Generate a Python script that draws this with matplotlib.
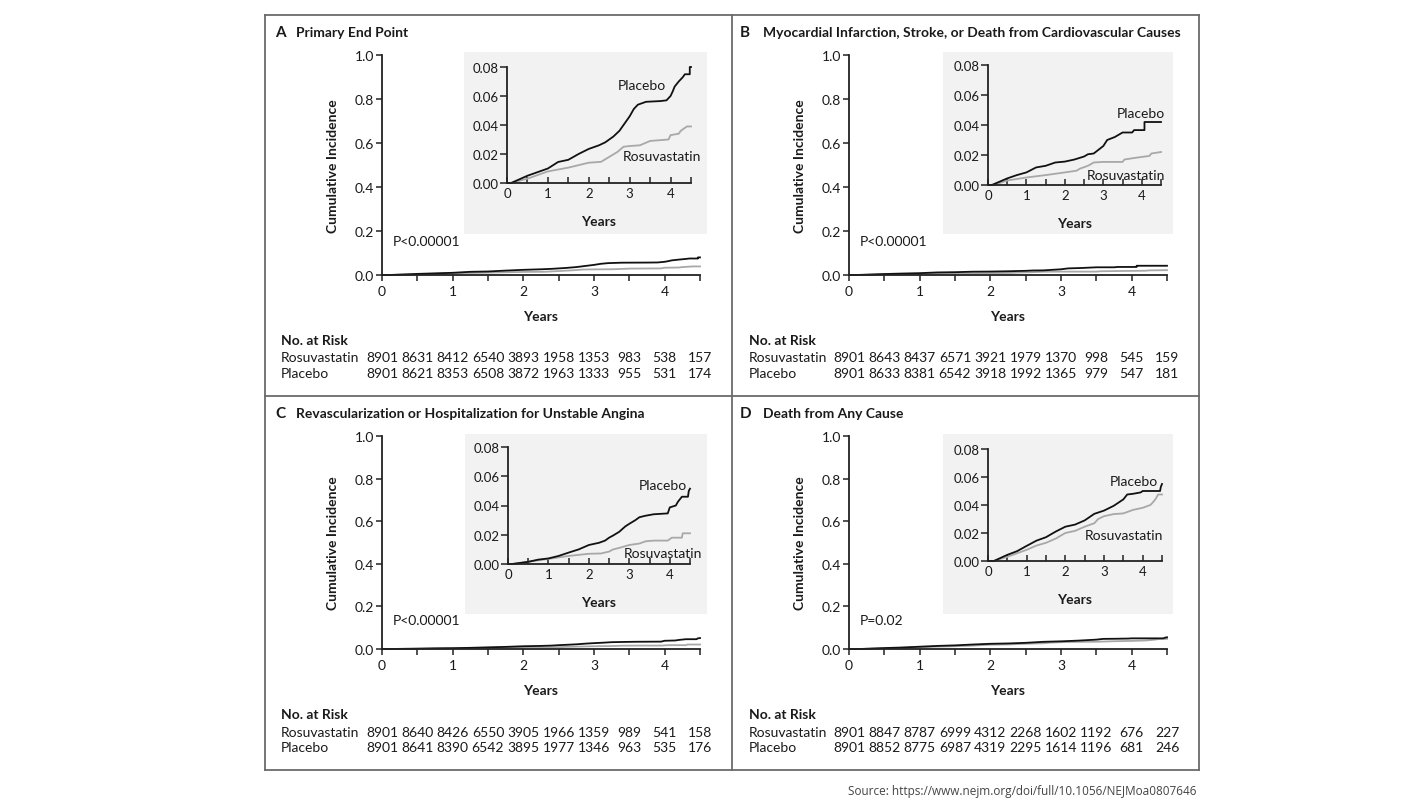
import matplotlib
matplotlib.use('Agg')
import matplotlib.pyplot as plt
from matplotlib.patches import Rectangle
from matplotlib.lines import Line2D
from matplotlib.transforms import blended_transform_factory

W, H, DPI = 1427, 803, 100
plt.rcParams['font.family'] = ['Lato', 'DejaVu Sans']

# ---------------- data ----------------
titles = ["Primary End Point",
          "Myocardial Infarction, Stroke, or Death from Cardiovascular Causes",
          "Revascularization or Hospitalization for Unstable Angina",
          "Death from Any Cause"]
letters = ["A", "B", "C", "D"]
p_values = ["P<0.00001", "P<0.00001", "P<0.00001", "P=0.02"]

# Panel A (years, cumulative incidence)
a_plac_t = [0, 0.1, 0.5, 1.0, 1.25, 1.5, 1.75, 2.0, 2.25, 2.4, 2.6, 2.75, 2.9, 3.0, 3.1, 3.2, 3.4, 3.75, 3.9, 4.0, 4.05, 4.1, 4.2, 4.3, 4.35, 4.47, 4.47, 4.5]
a_plac_y = [0, 0, 0.005, 0.010, 0.0145, 0.016, 0.020, 0.0235, 0.026, 0.028, 0.032, 0.036, 0.042, 0.046, 0.051, 0.054, 0.056, 0.0565, 0.057, 0.060, 0.063, 0.0665, 0.070, 0.073, 0.075, 0.075, 0.080, 0.080]
a_rosu_t = [0, 0.1, 0.5, 1.0, 1.5, 2.0, 2.3, 2.5, 2.7, 2.85, 3.0, 3.25, 3.5, 3.95, 4.0, 4.2, 4.25, 4.4, 4.5]
a_rosu_y = [0, 0, 0.003, 0.008, 0.0106, 0.014, 0.0146, 0.018, 0.0214, 0.025, 0.0255, 0.026, 0.029, 0.030, 0.033, 0.034, 0.036, 0.039, 0.039]

# Panel B
b_plac_t = [0, 0.1, 0.5, 0.75, 1.0, 1.25, 1.5, 1.75, 2.0, 2.25, 2.5, 2.6, 2.75, 2.9, 3.0, 3.1, 3.3, 3.5, 3.75, 3.8, 4.07, 4.07, 4.5]
b_plac_y = [0, 0, 0.0044, 0.0066, 0.0084, 0.0117, 0.0128, 0.015, 0.0156, 0.017, 0.019, 0.0205, 0.021, 0.024, 0.026, 0.030, 0.032, 0.035, 0.035, 0.0366, 0.0366, 0.042, 0.042]
b_rosu_t = [0, 0.15, 0.5, 1.0, 1.5, 2.0, 2.3, 2.4, 2.6, 2.75, 3.0, 3.5, 3.55, 3.8, 4.2, 4.25, 4.4, 4.5]
b_rosu_y = [0, 0, 0.003, 0.005, 0.0066, 0.0084, 0.0095, 0.011, 0.0128, 0.015, 0.0154, 0.0154, 0.017, 0.018, 0.0194, 0.021, 0.0216, 0.022]

# Panel C
c_plac_t = [0, 0.1, 0.5, 0.75, 1.0, 1.25, 1.5, 1.75, 2.0, 2.25, 2.4, 2.5, 2.6, 2.75, 2.9, 3.0, 3.15, 3.25, 3.4, 3.6, 3.95, 4.0, 4.15, 4.2, 4.3, 4.45, 4.47, 4.5]
c_plac_y = [0, 0, 0.0015, 0.003, 0.0038, 0.0055, 0.0078, 0.010, 0.013, 0.0145, 0.016, 0.018, 0.0195, 0.022, 0.0257, 0.0275, 0.030, 0.032, 0.033, 0.034, 0.0346, 0.0387, 0.040, 0.0425, 0.046, 0.046, 0.050, 0.0515]
c_rosu_t = [0, 0.1, 0.5, 1.0, 1.5, 2.0, 2.3, 2.5, 2.6, 2.75, 3.0, 3.25, 3.4, 3.6, 3.95, 4.05, 4.3, 4.32, 4.5]
c_rosu_y = [0, 0, 0.0015, 0.0035, 0.0055, 0.007, 0.0072, 0.0085, 0.010, 0.011, 0.013, 0.014, 0.0155, 0.016, 0.016, 0.018, 0.018, 0.021, 0.021]

# Panel D
d_plac_t = [0, 0.15, 0.5, 0.75, 1.0, 1.25, 1.5, 1.75, 2.0, 2.25, 2.5, 2.75, 3.0, 3.25, 3.5, 3.6, 3.75, 3.95, 4.0, 4.45, 4.47, 4.5]
d_plac_y = [0, 0, 0.0044, 0.007, 0.0108, 0.0145, 0.017, 0.021, 0.0245, 0.026, 0.029, 0.0337, 0.036, 0.0394, 0.044, 0.0475, 0.048, 0.049, 0.050, 0.050, 0.053, 0.055]
d_rosu_t = [0, 0.15, 0.5, 0.75, 1.0, 1.25, 1.5, 1.75, 2.0, 2.25, 2.5, 2.75, 2.85, 3.0, 3.25, 3.5, 3.75, 4.0, 4.2, 4.3, 4.35, 4.4, 4.5]
d_rosu_y = [0, 0, 0.003, 0.0055, 0.008, 0.011, 0.013, 0.016, 0.020, 0.0215, 0.0245, 0.027, 0.030, 0.032, 0.0335, 0.034, 0.0365, 0.038, 0.040, 0.043, 0.045, 0.0475, 0.0475]

risk_times = [0, 0.5, 1, 1.5, 2, 2.5, 3, 3.5, 4, 4.5]
a_risk_rosu = [8901, 8631, 8412, 6540, 3893, 1958, 1353, 983, 538, 157]
a_risk_plac = [8901, 8621, 8353, 6508, 3872, 1963, 1333, 955, 531, 174]
b_risk_rosu = [8901, 8643, 8437, 6571, 3921, 1979, 1370, 998, 545, 159]
b_risk_plac = [8901, 8633, 8381, 6542, 3918, 1992, 1365, 979, 547, 181]
c_risk_rosu = [8901, 8640, 8426, 6550, 3905, 1966, 1359, 989, 541, 158]
c_risk_plac = [8901, 8641, 8390, 6542, 3895, 1977, 1346, 963, 535, 176]
d_risk_rosu = [8901, 8847, 8787, 6999, 4312, 2268, 1602, 1192, 676, 227]
d_risk_plac = [8901, 8852, 8775, 6987, 4319, 2295, 1614, 1196, 681, 246]

main_yticks = [0.0, 0.2, 0.4, 0.6, 0.8, 1.0]
inset_yticks = [0.00, 0.02, 0.04, 0.06, 0.08]
xticks = [0, 0.5, 1, 1.5, 2, 2.5, 3, 3.5, 4, 4.5]
xticklabels = ["0", "", "1", "", "2", "", "3", "", "4", ""]

panels = [
    dict(pt=a_plac_t, py=a_plac_y, rt=a_rosu_t, ry=a_rosu_y, rr=a_risk_rosu, rp=a_risk_plac),
    dict(pt=b_plac_t, py=b_plac_y, rt=b_rosu_t, ry=b_rosu_y, rr=b_risk_rosu, rp=b_risk_plac),
    dict(pt=c_plac_t, py=c_plac_y, rt=c_rosu_t, ry=c_rosu_y, rr=c_risk_rosu, rp=c_risk_plac),
    dict(pt=d_plac_t, py=d_plac_y, rt=d_rosu_t, ry=d_rosu_y, rr=d_risk_rosu, rp=d_risk_plac),
]

# ---------------- layout (pixels) ----------------
layout = [
    dict(main=(382, 700, 56, 276), inset=(507, 691, 68, 184), bg=(464, 707, 53, 235),
         title=(275, 296, 33), risk=(281, 341, 358, 374), years=317, ylab=333,
         plac_lab=(3.3, 0.0676), rosu_lab=(3.78, 0.0186), pval=(0.15, 0.155)),
    dict(main=(849, 1167, 56, 276), inset=(988, 1161, 66, 186), bg=(943, 1173, 53, 235),
         title=(740, 763, 33), risk=(749, 341, 358, 374), years=317, ylab=800,
         plac_lab=(3.97, 0.048), rosu_lab=(3.58, 0.0067), pval=(0.15, 0.155)),
    dict(main=(382, 700, 437, 650), inset=(508, 690, 448, 565), bg=(465, 707, 435, 615),
         title=(275, 296, 414), risk=(281, 715, 733, 748), years=691, ylab=333,
         plac_lab=(3.83, 0.054), rosu_lab=(3.83, 0.0075), pval=(0.15, 0.138)),
    dict(main=(849, 1167, 437, 650), inset=(988, 1162, 450, 562), bg=(943, 1173, 435, 615),
         title=(740, 763, 414), risk=(749, 715, 733, 748), years=691, ylab=800,
         plac_lab=(3.77, 0.057), rosu_lab=(3.51, 0.0186), pval=(0.15, 0.138)),
]

TXT = '#1a1a1a'
PLAC_C = '#111111'
ROSU_C = '#a8a8a8'
FRAME_C = '#6b6b6b'
FS = 10

fig = plt.figure(figsize=(W / DPI, H / DPI), dpi=DPI)
fig.patch.set_facecolor('white')


def px_axes(x0, x1, ytop, ybot):
    return fig.add_axes([x0 / W, 1 - ybot / H, (x1 - x0) / W, (ybot - ytop) / H])


def ftext(x, y, s, **kw):
    return fig.text(x / W, 1 - y / H, s, **kw)


def style_axes(ax, lw):
    ax.set_facecolor('none')
    for s in ['top', 'right']:
        ax.spines[s].set_visible(False)
    for s in ['left', 'bottom']:
        ax.spines[s].set_linewidth(lw)
        ax.spines[s].set_color('#222222')


for i, (pd_, lo) in enumerate(zip(panels, layout)):
    # inset background
    bx0, bx1, by0, by1 = lo['bg']
    fig.patches.append(Rectangle((bx0 / W, 1 - by1 / H), (bx1 - bx0) / W, (by1 - by0) / H,
                                 transform=fig.transFigure, facecolor='#f2f2f2',
                                 edgecolor='none', zorder=-1))

    # main axes
    ax = px_axes(*lo['main'])
    style_axes(ax, 1.3)
    ax.set_xlim(0, 4.5)
    ax.set_ylim(0, 1)
    ax.plot(pd_['rt'], pd_['ry'], color=ROSU_C, lw=1.3, clip_on=False)
    ax.plot(pd_['pt'], pd_['py'], color=PLAC_C, lw=1.3, clip_on=False)
    ax.set_xticks(xticks)
    ax.set_xticklabels(xticklabels)
    ax.set_yticks(main_yticks)
    ax.set_yticklabels([f"{v:.1f}" for v in main_yticks])
    ax.tick_params(axis='both', direction='out', length=4, width=1.1, color='#222222',
                   labelsize=FS, labelcolor=TXT)
    ax.tick_params(axis='y', pad=1.5)
    ax.tick_params(axis='x', pad=3.5)
    ax.text(lo['pval'][0], lo['pval'][1], p_values[i], fontsize=FS, color=TXT,
            ha='left', va='center')
    ftext((lo['main'][0] + lo['main'][1]) / 2, lo['years'], "Years", fontsize=FS,
          fontweight='bold', ha='center', va='center', color=TXT)
    ftext(lo['ylab'], (lo['main'][2] + lo['main'][3]) / 2, "Cumulative Incidence",
          fontsize=FS, fontweight='bold', rotation=90, ha='center', va='center', color=TXT)

    # inset axes
    ia = px_axes(*lo['inset'])
    style_axes(ia, 1.3)
    ia.set_xlim(0, 4.5)
    ia.set_ylim(0, 0.08)
    ia.plot(pd_['rt'], pd_['ry'], color=ROSU_C, lw=1.3, clip_on=False)
    ia.plot(pd_['pt'], pd_['py'], color=PLAC_C, lw=1.3, clip_on=False)
    ia.set_xticks(xticks)
    ia.set_xticklabels(xticklabels)
    ia.set_yticks(inset_yticks)
    ia.set_yticklabels([f"{v:.2f}" for v in inset_yticks])
    ia.tick_params(axis='y', direction='out', length=5, width=1.1, color='#222222',
                   labelsize=FS - 0.5, labelcolor=TXT, pad=1)
    ia.tick_params(axis='x', direction='in', length=4, width=1.1, color='#222222',
                   labelsize=FS - 0.5, labelcolor=TXT, pad=3)
    ia.text(lo['plac_lab'][0], lo['plac_lab'][1], "Placebo", fontsize=FS, color=TXT,
            ha='center', va='center')
    ia.text(lo['rosu_lab'][0], lo['rosu_lab'][1], "Rosuvastatin", fontsize=FS, color=TXT,
            ha='center', va='center')
    iy_years = lo['inset'][3] + 38
    ftext((lo['inset'][0] + lo['inset'][1]) / 2, iy_years, "Years", fontsize=FS,
          fontweight='bold', ha='center', va='center', color=TXT)

    # title
    lx, tx, ty = lo['title']
    ftext(lx, ty, letters[i], fontsize=11, fontweight='bold', ha='left', va='center', color=TXT)
    ftext(tx, ty, titles[i], fontsize=FS, fontweight='bold', ha='left', va='center', color=TXT)

    # risk table
    rx, ry_head, ry1, ry2 = lo['risk']
    ftext(rx, ry_head, "No. at Risk", fontsize=FS, fontweight='bold', ha='left', va='center', color=TXT)
    ftext(rx, ry1, "Rosuvastatin", fontsize=FS, ha='left', va='center', color=TXT)
    ftext(rx, ry2, "Placebo", fontsize=FS, ha='left', va='center', color=TXT)
    tr = blended_transform_factory(ax.transData, fig.transFigure)
    for t, n1, n2 in zip(risk_times, pd_['rr'], pd_['rp']):
        fig.text(t, 1 - ry1 / H, str(n1), transform=tr, fontsize=FS, ha='center', va='center', color=TXT)
        fig.text(t, 1 - ry2 / H, str(n2), transform=tr, fontsize=FS, ha='center', va='center', color=TXT)

# frame lines
def fline(x0, y0, x1, y1):
    fig.lines.append(Line2D([x0 / W, x1 / W], [1 - y0 / H, 1 - y1 / H], transform=fig.transFigure,
                            color=FRAME_C, lw=1.3))

fline(265, 16, 1199, 16)
fline(265, 771, 1199, 771)
fline(265, 16, 265, 771)
fline(1199, 16, 1199, 771)
fline(732, 16, 732, 771)
fline(265, 397, 1199, 397)

ftext(1197, 792, "Source: https://www.nejm.org/doi/full/10.1056/NEJMoa0807646",
      fontsize=8.5, ha='right', va='center', color='#444444', family=['Open Sans', 'DejaVu Sans'])

fig.savefig('out.png', dpi=DPI)
